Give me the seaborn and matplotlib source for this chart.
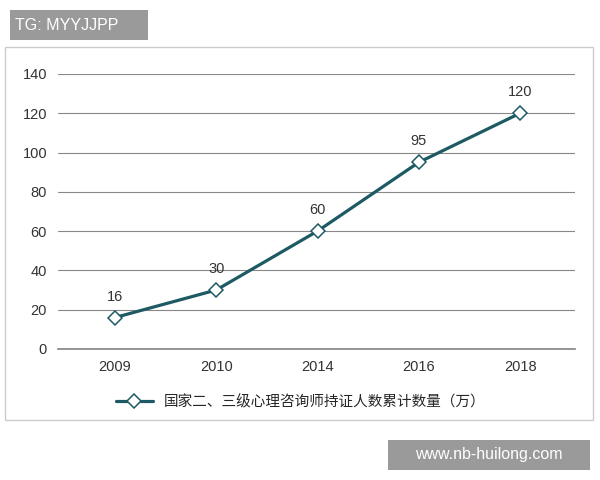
import matplotlib
matplotlib.use("Agg")
import matplotlib.pyplot as plt
import seaborn as sns
import pandas as pd
from matplotlib.patches import Rectangle

years = ["2009", "2010", "2014", "2016", "2018"]
values = [16, 30, 60, 95, 120]
series_name = "国家二、三级心理咨询师持证人数累计数量（万）"

sns.set_theme(style="white")
plt.rcParams['font.family'] = ['Liberation Sans', 'Noto Sans CJK SC', 'DejaVu Sans']

df = pd.DataFrame({"year": years, "value": values})
fig = plt.figure(figsize=(6, 4.8), dpi=100)
ax = fig.add_axes([0.097, 0.273, 0.861, 0.573])
color = "#1d5a63"
sns.lineplot(data=df, x="year", y="value", ax=ax, color=color, lw=2.3,
             marker="D", markersize=7, markerfacecolor="white",
             markeredgecolor=color, markeredgewidth=1.1, label=series_name, sort=False)
for i, v in enumerate(values):
    ax.annotate(str(v), (i, v), xytext=(0, 10), textcoords="offset points",
                ha="center", va="bottom", fontsize=10.5, color="#333333")
ax.set_ylim(0, 140)
ax.set_yticks(range(0, 141, 20))
ax.set_xlim(-0.56, 4.54)
ax.grid(axis="y", color="#888888", lw=0.8)
for s in ax.spines.values():
    s.set_visible(False)
ax.spines["bottom"].set_visible(True)
ax.spines["bottom"].set_color("#888888")
ax.set_xlabel(""); ax.set_ylabel("")
ax.tick_params(labelsize=10.5, colors="#333333", length=0, pad=8)
ax.legend(loc="upper center", bbox_to_anchor=(0.47, -0.12), frameon=False,
          fontsize=10.5, handlelength=2.5)

fig.patches.append(Rectangle((5/600, 1-420/480), 588/600, 373/480, transform=fig.transFigure,
                             fill=False, edgecolor="#cccccc", lw=1))
fig.patches.append(Rectangle((10/600, 1-40/480), 138/600, 30/480, transform=fig.transFigure,
                             facecolor="#9a9a9a", edgecolor="none"))
fig.text(15/600, 1-25/480, "TG: MYYJJPP", color="white", fontsize=11.5, va="center")
fig.patches.append(Rectangle((388/600, 1-470/480), 202/600, 30/480, transform=fig.transFigure,
                             facecolor="#9a9a9a", edgecolor="none"))
fig.text(489/600, 1-455/480, "www.nb-huilong.com", color="white", fontsize=11.5,
         va="center", ha="center")
fig.savefig("out.png", dpi=100)
